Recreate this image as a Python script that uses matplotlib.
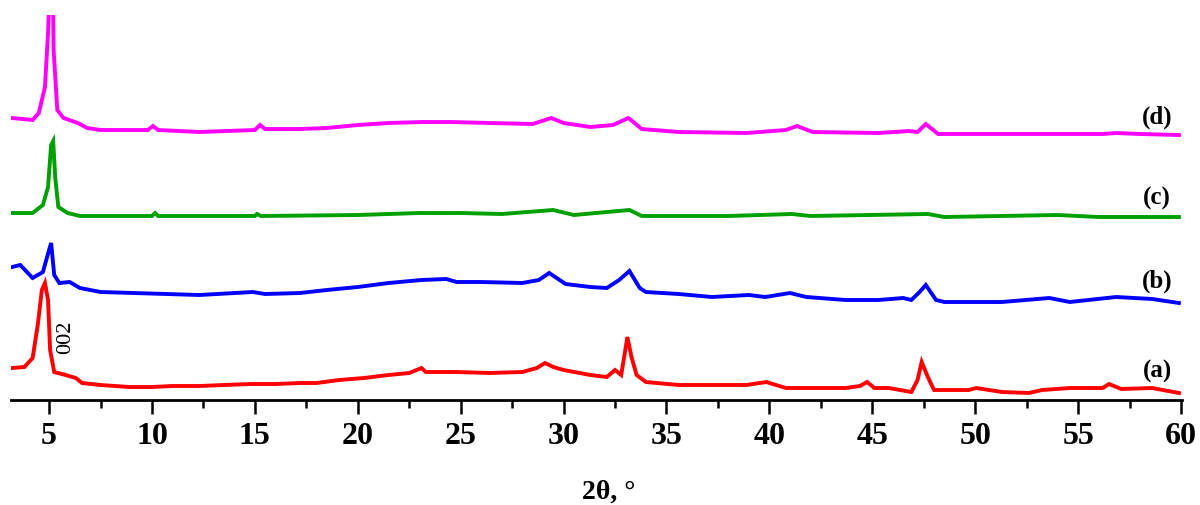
import matplotlib
matplotlib.use("Agg")
import matplotlib.pyplot as plt
from matplotlib.ticker import MultipleLocator

plt.rcParams.update({
    "font.family": "serif",
    "font.serif": ["Liberation Serif", "DejaVu Serif"],
})

# XRD patterns, 2theta (deg) vs intensity (a.u., stacked)
a_x = [3.2, 3.8, 4.2, 4.45, 4.65, 4.8, 4.95, 5.05, 5.25, 5.8, 6.3, 6.6, 7.5, 8.9, 10.0,
       11.0, 12.3, 13.5, 14.8, 16.0, 17.2, 18.0, 19.1, 20.3, 21.5, 22.5, 23.1, 23.3, 24.8,
       26.4, 28.0, 28.7, 29.1, 29.5, 30.0, 31.3, 32.1, 32.5, 32.8, 33.0, 33.1, 33.3, 33.55,
       34.0, 35.6, 37.2, 38.9, 39.85, 40.8, 42.1, 43.7, 44.4, 44.75, 45.1, 45.8, 46.9, 47.2,
       47.4, 47.7, 48.0, 49.7, 50.05, 51.3, 52.6, 53.25, 54.6, 56.2, 56.5, 57.1, 58.6, 59.9]
a_y = [32, 33, 42, 75, 110, 117, 100, 50, 28, 25, 22, 17, 15, 13, 13,
       14, 14, 15, 16, 16, 17, 17, 20, 22, 25, 27, 32, 28, 28,
       27, 28, 32, 37, 33, 30, 25, 23, 30, 25, 50, 63, 43, 25,
       18, 15, 15, 15, 18, 12, 12, 12, 14, 18, 12, 12, 8, 20,
       38, 23, 10, 10, 12, 8, 7, 10, 12, 12, 16, 11, 12, 7]

b_x = [3.2, 3.6, 4.2, 4.7, 5.0, 5.1, 5.25, 5.5, 6.0, 6.5, 7.5, 9.1, 12.3, 14.9, 15.5,
       17.2, 18.5, 20.0, 21.5, 23.1, 24.3, 24.8, 26.0, 28.0, 28.8, 29.3, 30.1, 31.3, 32.1,
       32.7, 33.2, 33.7, 34.0, 35.6, 37.2, 39.0, 39.8, 41.0, 41.8, 43.7, 45.3, 46.5, 46.9,
       47.3, 47.6, 48.1, 48.5, 51.3, 53.6, 54.6, 56.85, 58.6, 59.9]
b_y = [133, 135, 122, 128, 150, 157, 125, 117, 118, 112, 108, 107, 105, 108, 106,
       107, 110, 113, 117, 120, 121, 118, 118, 117, 120, 127, 116, 113, 112,
       120, 129, 112, 108, 106, 103, 105, 103, 107, 103, 100, 100, 102, 100,
       108, 115, 100, 98, 98, 102, 98, 103, 101, 97]

c_x = [3.2, 4.2, 4.7, 4.95, 5.1, 5.2, 5.3, 5.45, 5.9, 6.5, 10.0, 10.15, 10.3, 15.0, 15.1,
       15.3, 20.0, 23.0, 25.0, 27.0, 29.5, 30.5, 33.2, 33.8, 38.0, 41.1, 42.0, 47.7, 48.5,
       54.0, 56.0, 59.9]
c_y = [187, 187, 195, 213, 255, 259, 222, 193, 187, 184, 184, 187, 184, 184, 186,
       184, 185, 187, 187, 186, 190, 185, 190, 184, 184, 186, 184, 186, 183,
       185, 183, 183]

d_x = [3.2, 4.2, 4.5, 4.8, 4.95, 5.05, 5.18, 5.22, 5.4, 5.7, 6.4, 6.85, 7.5, 9.8, 10.05,
       10.3, 12.3, 15.0, 15.25, 15.5, 17.2, 18.5, 20.0, 21.5, 23.15, 24.5, 26.4, 28.5, 29.4,
       30.0, 31.3, 32.4, 33.15, 33.8, 35.6, 38.9, 40.8, 41.35, 42.1, 45.3, 46.8, 47.2, 47.6,
       48.2, 52.0, 56.2, 56.85, 58.0, 59.9]
d_y = [282, 280, 287, 313, 367, 420, 420, 350, 290, 282, 277, 272, 270, 270, 274,
       270, 268, 270, 275, 271, 271, 272, 275, 277, 278, 278, 277, 276, 282,
       277, 273, 275, 282, 271, 268, 267, 270, 274, 268, 267, 269, 268, 276,
       266, 266, 266, 267, 266, 265]

series = [
    ("(a)", a_x, a_y, "#ff0000"),
    ("(b)", b_x, b_y, "#0000ff"),
    ("(c)", c_x, c_y, "#00a000"),
    ("(d)", d_x, d_y, "#ff00ff"),
]
label_pos = {"(a)": 29, "(b)": 119, "(c)": 202, "(d)": 283}

fig = plt.figure(figsize=(12, 5.05), dpi=100)
ax = fig.add_axes([11 / 1200, 1 - 400 / 505, 1171 / 1200, 385 / 505])

for name, xs, ys, col in series:
    ax.plot(xs, ys, color=col, lw=2.8, solid_joinstyle="miter", zorder=3)
    ax.text(58.85, label_pos[name], name, ha="center", va="center",
            fontsize=18, fontweight="bold", color="black")

ax.text(5.78, 63, "002", rotation=90, ha="center", va="center", fontsize=16)

ax.set_xlim(3.15, 60.05)
ax.set_ylim(0, 385)
ax.xaxis.set_major_locator(MultipleLocator(5))
ax.xaxis.set_minor_locator(MultipleLocator(2.5))
ax.set_yticks([])
for s in ("top", "right", "left"):
    ax.spines[s].set_visible(False)
ax.spines["bottom"].set_linewidth(2)
ax.tick_params(axis="x", which="major", direction="out", length=10, width=1.8,
               labelsize=23, pad=6)
ax.tick_params(axis="x", which="minor", direction="out", length=6, width=1.8)
for lab in ax.get_xticklabels():
    lab.set_fontweight("bold")

fig.text(609 / 1200, 1 - 492 / 505, "2θ, °", ha="center", va="center",
         fontsize=20, fontweight="bold")

fig.savefig("out.png", dpi=100, facecolor="white")
